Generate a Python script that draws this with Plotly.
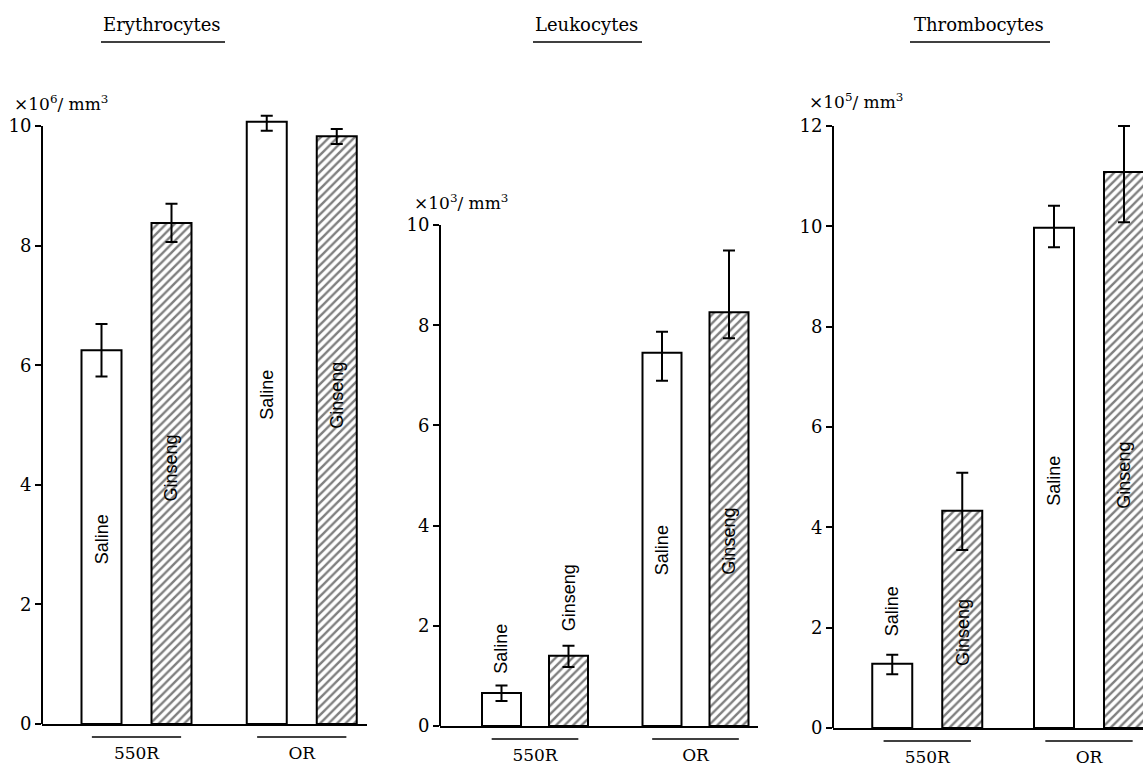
import plotly.graph_objects as go

# ---------------- data ----------------
groups = ["550R", "OR"]
treatments = ["Saline", "Ginseng"]
panel_titles = ["Erythrocytes", "Leukocytes", "Thrombocytes"]
unit_labels = ["×10<sup>6</sup>/ mm<sup>3</sup>",
               "×10<sup>3</sup>/ mm<sup>3</sup>",
               "×10<sup>5</sup>/ mm<sup>3</sup>"]

ery_saline = [6.25, 10.07]
ery_saline_err_hi = [0.44, 0.10]
ery_saline_err_lo = [0.44, 0.15]
ery_ginseng = [8.38, 9.83]
ery_ginseng_err_hi = [0.32, 0.12]
ery_ginseng_err_lo = [0.32, 0.13]

leu_saline = [0.66, 7.45]
leu_saline_err_hi = [0.15, 0.42]
leu_saline_err_lo = [0.16, 0.56]
leu_ginseng = [1.40, 8.26]
leu_ginseng_err_hi = [0.20, 1.23]
leu_ginseng_err_lo = [0.22, 0.52]

thr_saline = [1.28, 9.97]
thr_saline_err_hi = [0.18, 0.44]
thr_saline_err_lo = [0.21, 0.39]
thr_ginseng = [4.33, 11.08]
thr_ginseng_err_hi = [0.76, 0.92]
thr_ginseng_err_lo = [0.78, 1.00]

y_tick_vals = [[0, 2, 4, 6, 8, 10], [0, 2, 4, 6, 8, 10], [0, 2, 4, 6, 8, 10, 12]]

series = [
    (ery_saline, ery_saline_err_hi, ery_saline_err_lo, ery_ginseng, ery_ginseng_err_hi, ery_ginseng_err_lo),
    (leu_saline, leu_saline_err_hi, leu_saline_err_lo, leu_ginseng, leu_ginseng_err_hi, leu_ginseng_err_lo),
    (thr_saline, thr_saline_err_hi, thr_saline_err_lo, thr_ginseng, thr_ginseng_err_hi, thr_ginseng_err_lo),
]

# ---------------- layout (pixels) ----------------
W, H = 1143, 765
PANELS = [
    dict(x0=42, x1=367, c0=136.5, c1=301.75, slot=70, bw=40, base=724, ppu=59.8, ytop=10.4, axis_top=10,
         title_x=162, title_line=(101, 225), unit_x=12, unit_y=103,
         label_y=[[3.08, 5.5], [4.28, 5.5]]),
    dict(x0=440, x1=758, c0=535, c1=695.5, slot=67, bw=39, base=726, ppu=50.1, ytop=10.4, axis_top=10,
         title_x=586, title_line=(533, 642), unit_x=412, unit_y=202,
         label_y=[[1.53, 3.51], [2.56, 3.68]]),
    dict(x0=833, x1=1143, c0=927.25, c1=1089, slot=70, bw=40, base=728, ppu=50.17, ytop=12.4, axis_top=12,
         title_x=979, title_line=(910, 1050), unit_x=807, unit_y=101,
         label_y=[[2.33, 4.93], [1.9, 5.03]]),
]

SERIF = "DejaVu Serif"
SANS = "Liberation Sans"

fig = go.Figure()
annotations = []
shapes = []

for i, (p, s) in enumerate(zip(PANELS, series)):
    n = "" if i == 0 else str(i + 1)
    u = p["c1"] - p["c0"]
    slot = p["slot"] / u
    bw = p["bw"] / u
    sal, sal_hi, sal_lo, gin, gin_hi, gin_lo = s

    def px_x(v, p=p, u=u):
        return p["c0"] + v * u

    def paper_y_px(py):
        return 1 - py / H

    def paper_y(val, p=p):
        return 1 - (p["base"] - val * p["ppu"]) / H

    err_common = dict(type="data", symmetric=False, color="black", thickness=2, width=6, visible=True)

    fig.add_trace(go.Bar(
        x=groups, y=sal, name="Saline", xaxis="x" + n, yaxis="y" + n,
        width=bw, offset=-slot / 2 - bw / 2,
        marker=dict(color="white", line=dict(color="black", width=2)),
        error_y=dict(array=sal_hi, arrayminus=sal_lo, **err_common),
        showlegend=False, hoverinfo="skip",
    ))
    fig.add_trace(go.Bar(
        x=groups, y=gin, name="Ginseng", xaxis="x" + n, yaxis="y" + n,
        width=bw, offset=slot / 2 - bw / 2,
        marker=dict(color="white", line=dict(color="black", width=2),
                    pattern=dict(shape="/", fgcolor="black", bgcolor="white", size=6, solidity=0.4)),
        error_y=dict(array=gin_hi, arrayminus=gin_lo, **err_common),
        showlegend=False, hoverinfo="skip",
    ))

    xr = [(p["x0"] - p["c0"]) / u, (p["x1"] - p["c0"]) / u]
    dom_b = paper_y(0)
    dom_t = paper_y(p["ytop"])
    fig.update_layout(**{
        "xaxis" + n: dict(
            domain=[p["x0"] / W, p["x1"] / W], range=xr, anchor="y" + n, automargin=False,
            showline=True, linecolor="black", linewidth=2, showgrid=False, zeroline=False,
            ticks="outside", ticklen=13, tickcolor="rgba(0,0,0,0)",
            tickfont=dict(family=SERIF, size=17, color="black"), fixedrange=True,
        ),
        "yaxis" + n: dict(
            domain=[dom_b, dom_t], range=[0, p["ytop"]], anchor="x" + n, automargin=False,
            showline=False, showgrid=False, zeroline=False,
            tickvals=y_tick_vals[i], ticks="outside", ticklen=6, tickwidth=2, tickcolor="black",
            tickfont=dict(family=SERIF, size=18, color="black"), fixedrange=True,
        ),
    })

    # y axis line up to the top tick
    shapes.append(dict(type="line", xref="paper", yref="paper",
                       x0=p["x0"] / W, x1=p["x0"] / W, y0=dom_b, y1=paper_y(p["axis_top"]),
                       line=dict(color="black", width=2)))

    # group underlines
    for g in range(len(groups)):
        shapes.append(dict(type="line", xref="paper", yref="paper",
                           x0=px_x(g - 0.27) / W, x1=px_x(g + 0.27) / W,
                           y0=paper_y_px(p["base"] + 13), y1=paper_y_px(p["base"] + 13),
                           line=dict(color="black", width=1.5)))

    # bar labels (vertical)
    for t, sign in enumerate([-1, 1]):
        for g in range(len(groups)):
            annotations.append(dict(
                text=treatments[t], xref="x" + n, yref="y" + n,
                x=g + sign * slot / 2, y=p["label_y"][t][g],
                textangle=-90, showarrow=False, xanchor="center", yanchor="middle",
                font=dict(family=SANS, size=18, color="black"),
            ))

    # panel title + underline
    annotations.append(dict(text=panel_titles[i], xref="paper", yref="paper",
                            x=p["title_x"] / W, y=paper_y_px(24), showarrow=False,
                            xanchor="center", yanchor="middle",
                            font=dict(family=SERIF, size=18, color="black")))
    shapes.append(dict(type="line", xref="paper", yref="paper",
                       x0=p["title_line"][0] / W, x1=p["title_line"][1] / W,
                       y0=paper_y_px(42), y1=paper_y_px(42),
                       line=dict(color="black", width=1.5)))

    # unit label
    annotations.append(dict(text=unit_labels[i], xref="paper", yref="paper",
                            x=p["unit_x"] / W, y=paper_y_px(p["unit_y"]), showarrow=False,
                            xanchor="left", yanchor="middle",
                            font=dict(family=SERIF, size=17, color="black")))

fig.update_layout(
    width=W, height=H,
    margin=dict(l=0, r=0, t=0, b=0, pad=0),
    paper_bgcolor="white", plot_bgcolor="white",
    barmode="overlay",
    annotations=annotations, shapes=shapes,
    showlegend=False,
)

fig.write_html("out.html", config={"displayModeBar": False},
               post_script="document.body.style.margin='0';document.body.style.padding='0';")
